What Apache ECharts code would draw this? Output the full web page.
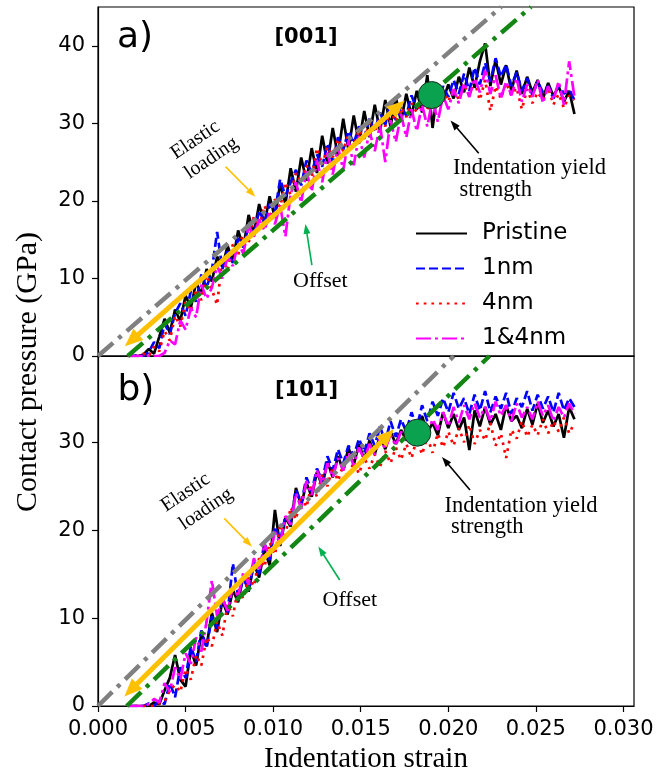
<!DOCTYPE html>
<html>
<head>
<meta charset="utf-8">
<script src="https://cdn.jsdelivr.net/npm/echarts@6/dist/echarts.min.js"></script>
<style>html,body{margin:0;padding:0;background:#fff}#c{width:670px;height:772px}</style>
</head>
<body>
<div id="c"></div>
<script>
// ---------- data ----------
var strain = [
0.0017,0.0020,0.0023,0.0026,0.0029,0.0032,0.0035,0.0038,0.0041,0.0044,
0.0047,0.0050,0.0053,0.0056,0.0059,0.0062,0.0065,0.0068,0.0071,0.0074,
0.0077,0.0080,0.0083,0.0086,0.0089,0.0092,0.0095,0.0098,0.0101,0.0104,
0.0107,0.0110,0.0113,0.0116,0.0119,0.0122,0.0125,0.0128,0.0131,0.0134,
0.0137,0.0140,0.0143,0.0146,0.0149,0.0152,0.0155,0.0158,0.0161,0.0164,
0.0167,0.0170,0.0173,0.0176,0.0179,0.0182,0.0185,0.0188,0.0191,0.0194,
0.0197,0.0200,0.0203,0.0206,0.0209,0.0212,0.0215,0.0218,0.0221,0.0224,
0.0227,0.0230,0.0233,0.0236,0.0239,0.0242,0.0245,0.0248,0.0251,0.0254,
0.0257,0.0260,0.0263,0.0266,0.0269,0.0272];

// panel a) [001]
var pristineA = [
0,0,0,0.2,0.9,0.3,2.5,4.8,3.0,6.0,
4.5,7.8,6.2,9.5,8.0,11.2,9.6,12.8,11.5,14.2,
12.2,16.2,14.0,18.2,15.8,19.6,17.0,20.6,17.8,22.2,
19.6,24.2,21.2,25.6,22.6,26.8,23.6,28.4,24.8,29.4,
25.8,30.6,26.6,31.0,27.4,31.6,28.2,32.4,29.0,33.0,
29.6,33.4,30.2,33.8,31.0,34.2,31.4,36.2,29.4,34.6,
33.0,35.0,33.2,36.0,34.0,37.2,34.6,38.0,40.3,34.8,
38.2,35.0,37.5,34.2,36.8,33.8,36.0,34.0,35.6,33.2,
35.2,33.5,34.8,32.8,34.2,31.2];
var nm1A = [
0,0,0.1,0,0.5,1.8,1.0,4.2,2.8,5.5,
6.8,5.2,8.4,7.0,10.5,8.8,11.0,16.0,11.2,13.5,
12.0,15.2,14.0,16.8,15.5,18.8,17.2,19.6,18.5,22.8,
20.6,22.4,24.0,22.0,25.2,23.6,26.0,24.4,27.4,25.0,
28.2,26.6,29.0,27.4,29.6,28.2,30.6,29.0,31.4,29.8,
32.8,30.4,32.2,31.0,33.6,31.8,33.0,32.2,34.4,32.6,
34.8,33.4,35.6,33.8,36.4,34.2,37.2,35.0,37.8,35.4,
38.4,36.0,37.6,34.8,36.6,34.2,35.8,33.6,35.4,34.0,
34.8,33.2,35.0,33.8,34.4,33.0];
var nm4A = [
0,0,0,0.3,0,1.2,0.6,3.2,2.0,5.2,
3.8,7.0,5.8,8.6,7.2,10.4,8.6,6.6,12.8,11.0,
14.4,13.0,16.2,14.6,18.0,16.6,19.4,17.8,20.2,19.2,
22.4,20.8,23.6,22.4,24.6,23.0,26.8,24.6,27.0,25.6,
28.0,26.4,28.6,27.0,29.2,28.0,30.0,28.8,30.8,29.6,
31.6,30.2,32.0,30.8,32.6,31.4,33.2,31.8,33.6,32.4,
34.2,32.8,34.6,33.0,35.0,33.6,35.4,33.0,35.6,31.6,
34.8,33.2,35.2,33.6,34.6,31.8,34.4,32.6,34.0,33.0,
34.6,32.4,33.8,32.0,33.6,33.0];
var nm14A = [
0,0,0,0,0,0,0,0.4,2.0,1.5,
4.6,3.4,6.2,5.0,9.2,7.4,8.8,11.6,10.0,12.8,
11.6,14.6,13.2,16.8,15.4,17.6,16.2,18.4,17.0,19.4,
15.4,21.0,22.4,19.8,23.8,21.2,25.2,22.4,26.2,23.4,
27.0,24.0,27.8,24.6,28.4,25.6,29.0,26.4,29.8,25.0,
30.4,27.6,31.2,28.2,31.8,29.0,32.4,29.6,33.2,30.2,
33.6,31.8,34.4,32.6,35.2,33.4,35.8,34.0,36.8,33.8,
36.2,33.2,35.4,33.6,35.8,32.8,35.0,33.4,35.6,32.6,
34.8,33.0,35.4,32.4,38.0,33.4];

// panel b) [101]
var pristineB = [
0,0,0,0,0,0.4,0.2,1.8,3.2,5.8,
3.0,2.2,6.4,4.6,8.2,6.8,10.6,8.4,12.0,10.4,
13.2,11.8,14.8,13.0,16.2,14.6,17.8,16.0,22.3,18.2,
21.4,20.4,24.8,22.8,25.4,23.8,26.6,25.0,27.8,26.0,
28.4,26.8,29.4,27.4,29.8,28.0,30.2,28.6,30.8,29.2,
31.2,29.8,31.4,30.2,32.0,30.6,33.0,31.0,32.2,30.8,
33.4,31.6,33.2,31.4,32.8,29.1,33.6,31.8,34.0,32.0,
33.2,31.4,34.2,32.4,33.0,31.6,33.8,32.0,34.4,32.2,
33.6,31.8,33.2,30.5,34.0,32.6];
var nm1B = [
0,0,0,0,0.3,0,0.6,0.2,2.6,1.0,
4.4,3.2,6.8,5.0,8.6,6.6,10.2,8.8,12.4,10.6,
16.2,12.4,14.6,13.2,16.4,15.0,18.6,16.6,20.4,18.8,
21.6,21.0,24.6,23.0,26.0,24.4,27.0,25.6,28.4,26.8,
29.2,27.6,29.6,28.4,30.4,28.8,31.0,29.6,31.8,30.0,
32.4,30.6,32.6,31.2,33.4,31.6,34.2,32.4,34.6,33.0,
35.0,33.4,35.6,33.8,35.0,33.2,35.4,33.6,35.8,33.4,
35.2,33.8,35.6,33.2,35.0,34.0,35.8,33.6,35.4,33.8,
35.2,33.4,35.6,33.6,35.0,34.0];
var nm4B = [
0,0,0,0,0,0,0.3,0.5,1.8,2.4,
1.6,4.2,3.0,5.8,4.6,7.8,6.8,9.6,8.0,11.6,
10.2,13.4,12.2,14.6,13.6,16.8,15.8,18.6,17.2,20.6,
19.4,22.6,21.2,24.0,22.6,25.2,23.8,26.4,25.0,27.2,
25.6,27.4,26.0,27.8,26.4,28.2,27.0,28.6,27.2,29.0,
27.6,29.4,28.0,29.8,28.2,30.4,28.6,30.6,28.8,31.0,
29.4,31.2,29.6,31.6,30.0,32.0,29.8,31.4,30.2,32.2,
29.6,31.0,28.2,31.4,30.4,32.4,30.6,32.0,30.8,32.6,
31.0,32.4,31.2,32.8,31.0,32.2];
var nm14B = [
0,0,0,0,0.2,0.8,0.4,2.6,1.6,4.4,
3.0,6.0,4.8,7.8,6.2,9.6,14.3,10.2,12.2,10.8,
13.6,12.4,15.2,13.8,16.8,15.4,18.4,17.0,19.8,18.4,
21.6,20.6,24.2,22.4,25.6,24.0,26.8,25.2,27.6,26.0,
28.2,26.8,28.8,27.4,29.4,28.0,29.8,28.6,30.4,29.2,
30.8,29.6,31.2,30.0,31.8,30.4,32.2,30.8,32.6,31.4,
33.4,31.8,34.0,32.2,34.2,32.6,34.4,32.8,34.0,32.4,
34.6,33.0,34.2,32.4,34.4,32.8,34.0,32.6,34.6,33.0,
34.2,32.4,34.0,32.8,34.4,33.2];

var seriesNames = ['Pristine', '1nm', '4nm', '1&4nm'];
var xTicks = [0, 0.005, 0.010, 0.015, 0.020, 0.025, 0.030];
var yTicksA = [0, 10, 20, 30, 40];
var yTicksB = [0, 10, 20, 30];

// elastic (gray) and offset (green) lines: [strain, pressure] end points
var elasticLineA = [[0, 0], [0.02302, 45]];
var offsetLineA  = [[0.0017, 0], [0.02472, 45]];
var elasticLineB = [[0, 0], [0.02031, 39.8]];
var offsetLineB  = [[0.00164, 0], [0.02235, 39.8]];
// yield points
var yieldA = [[0.01905, 33.65]];
var yieldB = [[0.01823, 31.08]];
// annotation arrows [from, to]
var loadArrowA  = [[0.00192, 2.01], [0.01713, 32.19]];
var loadArrowB  = [[0.00187, 1.81], [0.01653, 30.75]];
var elasticPtrA = [[0.00728, 24.41], [0.008786, 20.99]];
var elasticPtrB = [[0.007205, 21.34], [0.008592, 18.52]];
var offsetPtrA  = [[0.012211, 11.73], [0.011886, 16.39]];
var offsetPtrB  = [[0.013799, 14.33], [0.012731, 17.66]];
var yieldPtrA   = [[0.021734, 26.14], [0.020313, 29.87]];
var yieldPtrB   = [[0.021238, 24.56], [0.019822, 27.88]];

// ---------- chart ----------
var SANS = '"DejaVu Sans"';
var SERIF = '"Liberation Serif"';
var chart = echarts.init(document.getElementById('c'), null, {renderer: 'canvas'});

var styles = [
  {color: '#000000', type: 'solid'},
  {color: '#0000ff', type: [9, 4]},
  {color: '#ff0000', type: [2.7, 5]},
  {color: '#ff00ff', type: [15, 4, 3, 4]}
];

function curve(name, ys, k, g) {
  return {
    type: 'line', name: name, xAxisIndex: g, yAxisIndex: g,
    data: strain.map(function (x, i) { return [x, ys[i]]; }),
    symbol: 'none', showSymbol: false, silent: true, animation: false,
    lineStyle: {color: styles[k].color, width: 2.7, type: styles[k].type},
    itemStyle: {color: styles[k].color},
    emphasis: {disabled: true}, z: 2
  };
}
function refLine(pts, color, g) {
  return {
    type: 'line', xAxisIndex: g, yAxisIndex: g, data: pts,
    symbol: 'none', showSymbol: false, silent: true, animation: false,
    lineStyle: {color: color, width: 4.5, type: [20, 7, 4, 7]},
    emphasis: {disabled: true}, z: 3
  };
}
function arrowPair(a, color, width, both, size) {
  return [
    {coord: a[0], symbol: both ? 'triangle' : 'none', symbolSize: size,
     lineStyle: {color: color, width: width, type: 'solid'}, itemStyle: {color: color}},
    {coord: a[1], symbol: 'triangle', symbolSize: size, itemStyle: {color: color}}
  ];
}
function yieldSeries(pt, g, arrows) {
  return {
    type: 'scatter', xAxisIndex: g, yAxisIndex: g, data: pt,
    symbol: 'circle', symbolSize: 27, silent: true, animation: false,
    itemStyle: {color: '#0ba24f', opacity: 1, borderColor: '#1d2b1d', borderWidth: 1},
    emphasis: {disabled: true}, z: 5,
    markLine: {
      silent: true, animation: false, label: {show: false},
      emphasis: {disabled: true},
      data: arrows
    }
  };
}

var axisCommon = {
  type: 'value', splitLine: {show: false},
  axisLine: {show: true, onZero: false, lineStyle: {color: '#000', width: 1.2}},
  axisTick: {show: true, length: 6, lineStyle: {color: '#000', width: 1.2}},
  axisLabel: {color: '#000', fontFamily: SANS, fontSize: 21, margin: 13}
};
function ax(extra) { return echarts.util.merge(echarts.util.clone(axisCommon), extra, true); }

var option = {
  backgroundColor: '#ffffff',
  animation: false,
  grid: [
    {left: 98, top: 7, width: 536, height: 349, show: true, borderColor: '#000', borderWidth: 1.2, backgroundColor: 'transparent'},
    {left: 98, top: 356, width: 536, height: 350, show: true, borderColor: '#000', borderWidth: 1.2, backgroundColor: 'transparent'}
  ],
  xAxis: [
    ax({gridIndex: 0, min: 0, max: 0.0306, axisLabel: {show: false}, axisTick: {show: false}}),
    ax({gridIndex: 1, min: 0, max: 0.0306,
        axisLabel: {customValues: xTicks, formatter: function (v) { return v.toFixed(3); }},
        axisTick: {customValues: xTicks}})
  ],
  yAxis: [
    ax({gridIndex: 0, min: 0, max: 45, axisLabel: {customValues: yTicksA}, axisTick: {customValues: yTicksA}}),
    ax({gridIndex: 1, min: 0, max: 39.8, axisLabel: {customValues: yTicksB}, axisTick: {customValues: yTicksB}})
  ],
  legend: {
    data: seriesNames, orient: 'vertical', left: 410, top: 216.5,
    itemWidth: 51, itemHeight: 2, itemGap: 11, selectedMode: false,
    itemStyle: {opacity: 0},
    backgroundColor: 'transparent', borderWidth: 0,
    textStyle: {fontFamily: SANS, fontSize: 23, color: '#000', lineHeight: 24, padding: [0, 0, 0, 10]}
  },
  series: [
    curve(seriesNames[0], pristineA, 0, 0),
    curve(seriesNames[1], nm1A, 1, 0),
    curve(seriesNames[2], nm4A, 2, 0),
    curve(seriesNames[3], nm14A, 3, 0),
    curve(seriesNames[0], pristineB, 0, 1),
    curve(seriesNames[1], nm1B, 1, 1),
    curve(seriesNames[2], nm4B, 2, 1),
    curve(seriesNames[3], nm14B, 3, 1),
    refLine(elasticLineA, '#808080', 0),
    refLine(offsetLineA, '#138613', 0),
    refLine(elasticLineB, '#808080', 1),
    refLine(offsetLineB, '#138613', 1),
    yieldSeries(yieldA, 0, [
      arrowPair(loadArrowA, '#FFC000', 5, true, [15, 18]),
      arrowPair(elasticPtrA, '#FFC000', 1.6, false, [7, 10]),
      arrowPair(offsetPtrA, '#00B050', 1.6, false, [7, 10]),
      arrowPair(yieldPtrA, '#000000', 1.6, false, [7, 10])
    ]),
    yieldSeries(yieldB, 1, [
      arrowPair(loadArrowB, '#FFC000', 5, true, [15, 18]),
      arrowPair(elasticPtrB, '#FFC000', 1.6, false, [7, 10]),
      arrowPair(offsetPtrB, '#00B050', 1.6, false, [7, 10]),
      arrowPair(yieldPtrB, '#000000', 1.6, false, [7, 10])
    ])
  ],
  graphic: [
    {type: 'text', x: 117, y: 37.5, z: 100, style: {text: 'a)', font: '36px ' + SANS, fill: '#000', align: 'left', verticalAlign: 'middle'}},
    {type: 'text', x: 306, y: 38, z: 100, style: {text: '[001]', font: 'bold 21px ' + SANS, fill: '#000', align: 'center', verticalAlign: 'middle'}},
    {type: 'text', x: 117.5, y: 390.8, z: 100, style: {text: 'b)', font: '36px ' + SANS, fill: '#000', align: 'left', verticalAlign: 'middle'}},
    {type: 'text', x: 306.5, y: 390.6, z: 100, style: {text: '[101]', font: 'bold 21px ' + SANS, fill: '#000', align: 'center', verticalAlign: 'middle'}},
    {type: 'text', x: 195.3, y: 140, rotation: 34 * Math.PI / 180, z: 100, style: {text: 'Elastic', font: '20px ' + SERIF, fill: '#000', align: 'center', verticalAlign: 'middle'}},
    {type: 'text', x: 211.4, y: 158, rotation: 34 * Math.PI / 180, z: 100, style: {text: 'loading', font: '20px ' + SERIF, fill: '#000', align: 'center', verticalAlign: 'middle'}},
    {type: 'text', x: 185.7, y: 492.5, rotation: 34 * Math.PI / 180, z: 100, style: {text: 'Elastic', font: '20px ' + SERIF, fill: '#000', align: 'center', verticalAlign: 'middle'}},
    {type: 'text', x: 206, y: 509, rotation: 34 * Math.PI / 180, z: 100, style: {text: 'loading', font: '20px ' + SERIF, fill: '#000', align: 'center', verticalAlign: 'middle'}},
    {type: 'text', x: 293, y: 281.6, z: 100, style: {text: 'Offset', font: '22px ' + SERIF, fill: '#000', align: 'left', verticalAlign: 'middle'}},
    {type: 'text', x: 322.5, y: 600.6, z: 100, style: {text: 'Offset', font: '22px ' + SERIF, fill: '#000', align: 'left', verticalAlign: 'middle'}},
    {type: 'text', x: 453, y: 168.4, z: 100, style: {text: 'Indentation yield', font: '22.5px ' + SERIF, fill: '#000', align: 'left', verticalAlign: 'middle'}},
    {type: 'text', x: 459.4, y: 190.4, z: 100, style: {text: 'strength', font: '22.5px ' + SERIF, fill: '#000', align: 'left', verticalAlign: 'middle'}},
    {type: 'text', x: 444.5, y: 505.7, z: 100, style: {text: 'Indentation yield', font: '22.5px ' + SERIF, fill: '#000', align: 'left', verticalAlign: 'middle'}},
    {type: 'text', x: 450.9, y: 526.9, z: 100, style: {text: 'strength', font: '22.5px ' + SERIF, fill: '#000', align: 'left', verticalAlign: 'middle'}},
    {type: 'text', x: 28, y: 372, rotation: Math.PI / 2, z: 100, style: {text: 'Contact pressure (GPa)', font: '30px ' + SERIF, fill: '#000', align: 'center', verticalAlign: 'middle'}},
    {type: 'text', x: 366, y: 759.5, z: 100, style: {text: 'Indentation strain', font: '29px ' + SERIF, fill: '#000', align: 'center', verticalAlign: 'middle'}}
  ]
};
chart.setOption(option);
</script>
</body>
</html>
